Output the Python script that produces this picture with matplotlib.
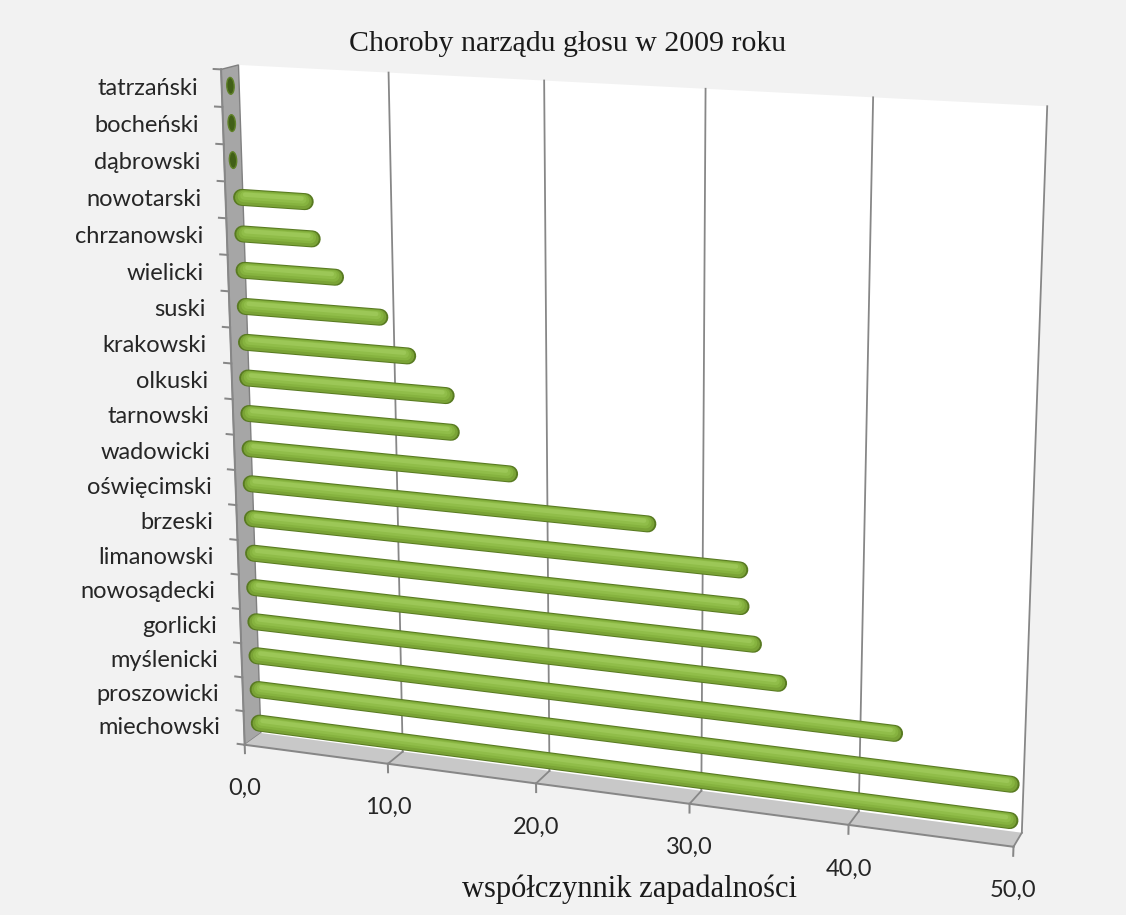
import numpy as np
import matplotlib
matplotlib.use("Agg")
import matplotlib.pyplot as plt
from matplotlib.transforms import Transform, offset_copy
from matplotlib.patches import Polygon, Ellipse

# ---- data -------------------------------------------------------------
districts = ["tatrzański", "bocheński", "dąbrowski", "nowotarski", "chrzanowski",
             "wielicki", "suski", "krakowski", "olkuski", "tarnowski", "wadowicki",
             "oświęcimski", "brzeski", "limanowski", "nowosądecki", "gorlicki",
             "myślenicki", "proszowicki", "miechowski"]
rates = [0.0, 0.0, 0.0, 5.3, 5.7, 7.2, 10.1, 11.9, 14.4, 14.7, 18.5,
         27.4, 33.2, 33.3, 34.1, 35.7, 42.9, 50.0, 50.0]
value_ticks = [0, 10, 20, 30, 40, 50]
value_tick_labels = ["0,0", "10,0", "20,0", "30,0", "40,0", "50,0"]
title = "Choroby narządu głosu w 2009 roku"
value_axis_title = "współczynnik zapadalności"

# ---- 3-D box and perspective camera ------------------------------------
VMAX = 50.0
NCAT = len(districts)

# anchor points of the box (value, category, depth) -> picture pixels
anchors = [
    ((0, NCAT, 0), (240, 65)), ((50, NCAT, 0), (1047, 106)),
    ((50, 0, 0), (1021, 833)), ((0, 0, 0), (261, 733)),
    ((10, NCAT, 0), (388, 72.5)), ((20, NCAT, 0), (545, 80.5)),
    ((30, NCAT, 0), (706, 88.7)), ((40, NCAT, 0), (873, 97)),
    ((10, 0, 0), (401, 751.5)), ((20, 0, 0), (549, 771)),
    ((30, 0, 0), (702, 791)), ((40, 0, 0), (859, 811.7)),
    ((0, NCAT, 1), (221, 70)), ((0, 0, 1), (245, 745)),
    ((0, 16, 1), (222.7, 182)), ((0, 13, 1), (228.9, 291)),
    ((0, 4, 1), (240.1, 608)), ((0, 2, 1), (242.6, 677)),
    ((10, 0, 1), (388, 764)), ((20, 0, 1), (537, 784)),
    ((30, 0, 1), (690, 804)), ((40, 0, 1), (849, 824)),
    ((50, 0, 1), (1013, 847)),
]


def fit_camera(pts):
    obj = np.array([p[0] for p in pts], float)
    img = np.array([p[1] for p in pts], float)
    so = np.array([VMAX, NCAT, 1.0])
    si = 1000.0
    rows = []
    for (X, Y, Z), (u, v) in zip(obj / so, img / si):
        rows.append([X, Y, Z, 1, 0, 0, 0, 0, -u * X, -u * Y, -u * Z, -u])
        rows.append([0, 0, 0, 0, X, Y, Z, 1, -v * X, -v * Y, -v * Z, -v])
    _, _, vt = np.linalg.svd(np.array(rows))
    P = vt[-1].reshape(3, 4)
    return np.diag([si, si, 1.0]) @ P @ np.diag([1 / so[0], 1 / so[1], 1 / so[2], 1.0])


CAMERA = fit_camera(anchors)


class PlaneProjection(Transform):
    """Maps 2-D coordinates on a plane of the 3-D box to picture pixels."""
    input_dims = 2
    output_dims = 2
    is_separable = False
    has_inverse = False

    def __init__(self, origin, axis_a, axis_b):
        super().__init__()
        self.o = np.asarray(origin, float)
        self.a = np.asarray(axis_a, float)
        self.b = np.asarray(axis_b, float)

    def transform_non_affine(self, values):
        vals = np.asarray(values, float)
        flat = vals.reshape(-1, 2)
        X = self.o + flat[:, :1] * self.a + flat[:, 1:2] * self.b
        h = np.c_[X, np.ones(len(X))] @ CAMERA.T
        out = h[:, :2] / h[:, 2:3]
        return out.reshape(vals.shape)


fig = plt.figure(figsize=(11.26, 9.15), dpi=100, facecolor="#f2f2f2")
ax = fig.add_axes([0, 0, 1, 1])
ax.set_xlim(0, 1126)
ax.set_ylim(915, 0)
ax.axis("off")


def plane(origin, a, b):
    return PlaneProjection(origin, a, b) + ax.transData


back_wall = plane((0, 0, 0), (1, 0, 0), (0, 1, 0))
front_face = plane((0, 0, 1), (1, 0, 0), (0, 1, 0))
bar_plane = plane((0, 0, 0.5), (1, 0, 0), (0, 1, 0))
left_floor = plane((0, 0, 0), (0, 1, 0), (0, 0, 1))      # (category, depth)
bottom_floor = plane((0, 0, 0), (1, 0, 0), (0, 0, 1))    # (value, depth)

PX = 72.0 / 100.0   # points per pixel
GRID = "#878787"

# walls
ax.add_patch(Polygon([(0, 0), (VMAX, 0), (VMAX, NCAT), (0, NCAT)], closed=True,
                     facecolor="white", edgecolor="none", transform=back_wall, zorder=1))
ax.add_patch(Polygon([(0, 0), (NCAT, 0), (NCAT, 1), (0, 1)], closed=True,
                     facecolor="#a6a6a6", edgecolor="#808080", lw=1.0,
                     transform=left_floor, zorder=2))
ax.add_patch(Polygon([(0, 0), (VMAX, 0), (VMAX, 1), (0, 1)], closed=True,
                     facecolor="#c8c8c8", edgecolor="none",
                     transform=bottom_floor, zorder=2))

# value gridlines on the back wall and across the floor
for v in value_ticks[1:]:
    ax.plot([v, v], [0, NCAT], color=GRID, lw=1.8 * PX, transform=back_wall, zorder=3)
    ax.plot([v, v], [0, 1], color=GRID, lw=1.8 * PX, transform=bottom_floor, zorder=3)

# axis lines and ticks
ax.plot([0, 0], [0, NCAT], color=GRID, lw=2 * PX, transform=front_face, zorder=4)
ax.plot([0, VMAX], [0, 0], color=GRID, lw=2 * PX, transform=front_face, zorder=4)
for c in range(NCAT + 1):
    ax.plot([0, -0.5], [c, c], color=GRID, lw=2 * PX, transform=front_face, zorder=4)
for v in value_ticks:
    ax.plot([v, v], [0, -0.25], color=GRID, lw=2 * PX, transform=front_face, zorder=4)

# cylinder bars: stacked round-capped strokes give the rounded shading
R = 0.5   # cap radius in value units
shading = [  # (width px, colour, upward shift in category units)
    (17.0, "#587a21", 0.00),
    (15.0, "#7aa336", 0.00),
    (11.5, "#86b33f", 0.03),
    (8.0, "#90bd49", 0.05),
    (4.5, "#9cc757", 0.08),
]
for k, (name, val) in enumerate(zip(districts, rates)):
    c = NCAT - 1 - k + 0.5
    if val <= 0:
        ax.add_patch(Ellipse((0, c), width=0.5, height=0.45, facecolor="#415f17",
                             edgecolor="#5f8128", lw=1.0, transform=bar_plane, zorder=6))
        continue
    v0, v1 = R, max(val - R, R + 0.05)
    for i, (w, col, dc) in enumerate(shading):
        inset = 0.06 * i
        ax.plot([v0 + inset, v1 - inset], [c + dc, c + dc], color=col, lw=w * PX,
                solid_capstyle="round", transform=bar_plane, zorder=6)

# labels
label_font = ["Lato", "DejaVu Sans"]
serif_font = ["Liberation Serif", "DejaVu Serif"]
TEXT = "#262626"
cat_trans = offset_copy(front_face, fig=fig, x=-24, y=0, units="dots")
for k, name in enumerate(districts):
    c = NCAT - 1 - k + 0.5
    ax.text(0, c, name, transform=cat_trans, ha="right", va="center",
            fontsize=17, family=label_font, color=TEXT)

val_trans = offset_copy(front_face, fig=fig, x=0, y=-44, units="dots")
for v, lab in zip(value_ticks, value_tick_labels):
    ax.text(v, 0, lab, transform=val_trans, ha="center", va="center",
            fontsize=17, family=label_font, color=TEXT)

fig.text(568 / 1126, 1 - 44 / 915, title, ha="center", va="center",
         fontsize=21.5, family=serif_font, color="#1a1a1a")
fig.text(629 / 1126, 1 - 889 / 915, value_axis_title, ha="center", va="center",
         fontsize=22, family=serif_font, color="#1a1a1a")

fig.savefig("out.png", dpi=100, facecolor=fig.get_facecolor())
